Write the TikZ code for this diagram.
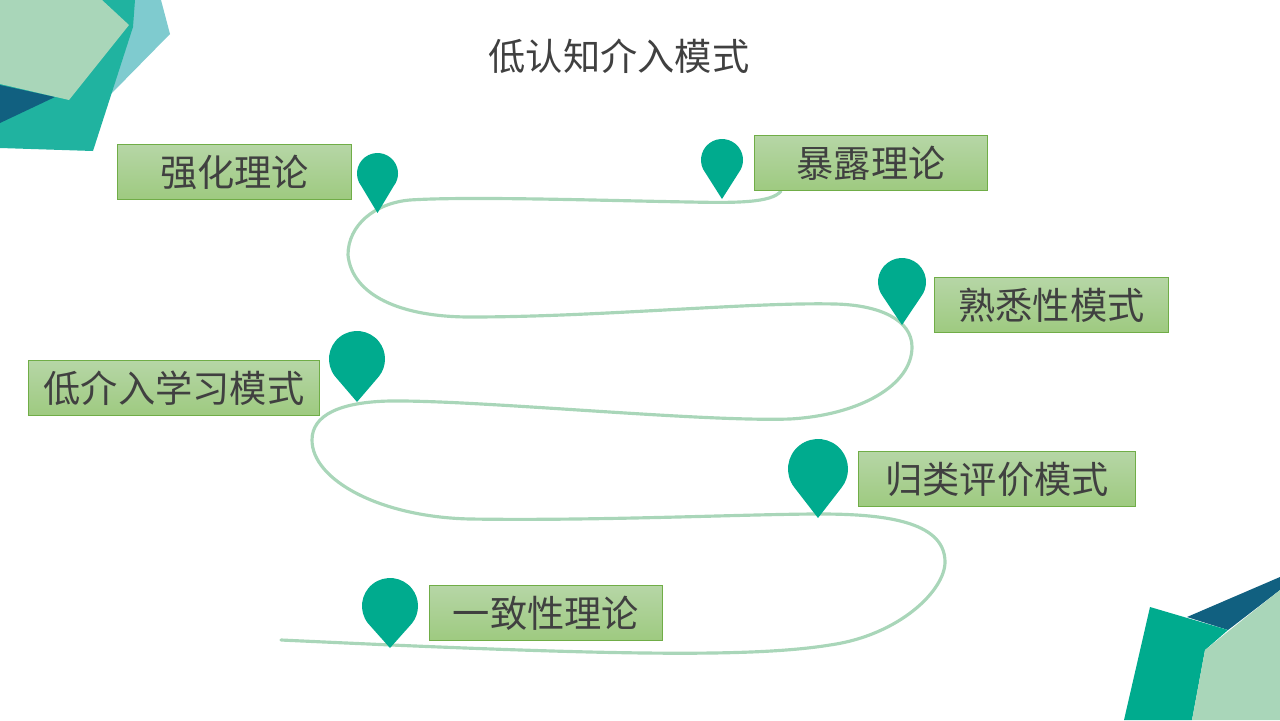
\documentclass[tikz,border=0pt]{standalone}
\usepackage{fontspec}
\usepackage{xcolor}
\usetikzlibrary{calc}
\newfontfamily\cjk{Noto Sans CJK SC}
\definecolor{roadgreen}{HTML}{A9D6B9}
\definecolor{pingreen}{HTML}{00AB8E}
\definecolor{cornerteal}{HTML}{20B3A0}
\definecolor{cornerpale}{HTML}{7FCBCF}
\definecolor{cornerblue}{HTML}{116080}
\definecolor{boxtop}{HTML}{B6D6A6}
\definecolor{boxbottom}{HTML}{9ECA80}
\definecolor{boxline}{HTML}{70AD47}
\definecolor{textgrey}{HTML}{404040}

\begin{document}
\begin{tikzpicture}[
    x=0.02cm, y=0.02cm,
    title/.style={text=textgrey, font=\cjk\fontsize{21.2}{25}\selectfont},
    labelbox/.style={draw=boxline, line width=0.5pt, top color=boxtop, bottom color=boxbottom,
        minimum height=1.1cm, inner sep=0pt, text=textgrey, font=\cjk\fontsize{21.2}{25}\selectfont},
    road/.style={draw=roadgreen, line width=1.8pt, line cap=round}
]
    \useasboundingbox (0,-720) rectangle (1280,0);

    % Corner top left
    \fill[cornerpale] (134,0) -- (161,0) -- (170,-34) -- (111,-94) -- (100,-60) -- cycle;
    \fill[cornerteal] (0,0) -- (135,0) -- (133,-27) -- (93,-151) -- (0,-148) -- cycle;
    \fill[cornerblue] (0,-85) -- (55,-97) -- (0,-123) -- cycle;
    \fill[roadgreen] (0,0) -- (102,0) -- (129,-25) -- (69,-100) -- (0,-84) -- cycle;

    % Corner bottom right
    \fill[cornerblue] (1187,-617) -- (1280,-577) -- (1280,-590) -- (1228,-630) -- cycle;
    \fill[pingreen] (1150,-607) -- (1228,-630) -- (1205,-650) -- (1192,-720) -- (1124,-720) -- cycle;
    \fill[roadgreen] (1280,-590) -- (1205,-650) -- (1192,-720) -- (1280,-720) -- cycle;

    % Road
    \path[road] (781,-191) .. controls (772,-203) and (735,-203) .. (690,-202)
        .. controls (620,-201) and (470,-196) .. (410,-200)
        .. controls (375,-203) and (348,-225) .. (348,-255)
        .. controls (352,-295) and (400,-317) .. (470,-317)
        .. controls (600,-317) and (750,-302) .. (835,-304)
        .. controls (880,-305) and (912,-320) .. (912,-347)
        .. controls (912,-385) and (860,-415) .. (790,-419)
        .. controls (700,-422) and (480,-400) .. (390,-401)
        .. controls (340,-402) and (312,-415) .. (312,-440)
        .. controls (312,-480) and (380,-517) .. (470,-519)
        .. controls (600,-521) and (750,-514) .. (820,-514)
        .. controls (880,-514) and (945,-520) .. (945,-562)
        .. controls (945,-590) and (900,-635) .. (830,-645)
        .. controls (750,-658) and (600,-655) .. (281,-640);

    % Pins
    \foreach \x/\y/\r/\h in {377.5/213/20.5/60, 722/199/21/60, 902/325/24/67,
                             357/402/28/71, 818/518/30/79, 390/648/28/70} {
        \fill[pingreen] (\x,-\y)
            -- ($(\x,-\y+\h-\r)+(218:\r*0.02cm)$)
            arc[start angle=218, end angle=-38, radius=\r*0.02cm] -- cycle;
    }

    % Labels
    \node[title] (head) at (619,-56) {低认知介入模式};
    \node[labelbox, minimum width=4.68cm] (reinforce) at (234.5,-172) {强化理论};
    \node[labelbox, minimum width=4.66cm] (exposure) at (871,-163) {暴露理论};
    \node[labelbox, minimum width=4.68cm] (familiar) at (1051.5,-305) {熟悉性模式};
    \node[labelbox, minimum width=5.82cm] (lowinv) at (174,-388) {低介入学习模式};
    \node[labelbox, minimum width=5.54cm] (category) at (997,-479) {归类评价模式};
    \node[labelbox, minimum width=4.66cm] (consist) at (546,-613) {一致性理论};
\end{tikzpicture}
\end{document}
